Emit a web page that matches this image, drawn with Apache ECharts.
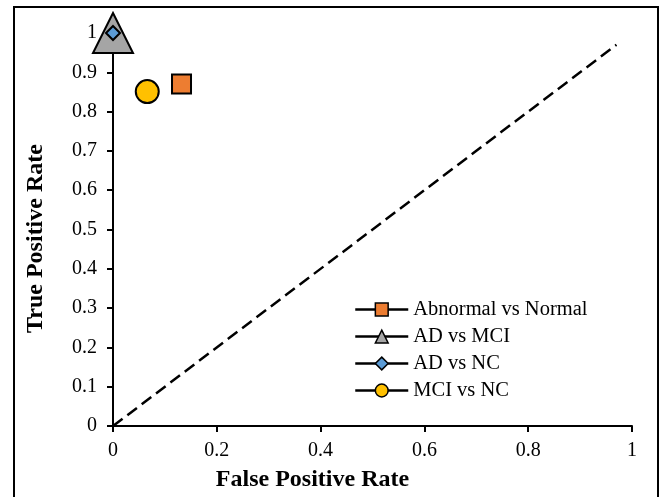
<!DOCTYPE html>
<html><head><meta charset="utf-8">
<script src="https://cdn.jsdelivr.net/npm/echarts@6/dist/echarts.min.js"></script>
<style>html,body{margin:0;padding:0;background:#fff}#c{width:667px;height:497px}</style>
</head><body><div id="c"></div>
<script>
const seriesNames = ["Abnormal vs Normal", "AD vs MCI", "AD vs NC", "MCI vs NC"];
const fpr = [0.132, 0, 0, 0.066];
const tpr = [0.870, 1, 1, 0.851];
const colors = ["#ED7D31", "#A5A5A5", "#5B9BD5", "#FFC000"];
const symbols = ["rect", "triangle", "diamond", "circle"];
const sizes = [19, 40, 14, 23];
const diagX = [0, 0.97];
const diagY = [0, 0.97];

const font = "'Liberation Serif','Times New Roman',serif";
const chart = echarts.init(document.getElementById('c'));
const series = [{
  type: 'line', name: 'diag', data: diagX.map((x, i) => [x, diagY[i]]),
  symbol: 'none', lineStyle: {color: '#000', width: 2.5, type: [12, 6]}, silent: true, z: 1
}];
seriesNames.forEach((n, i) => series.push({
  type: 'line', name: n, data: [[fpr[i], tpr[i]]],
  symbol: symbols[i], symbolSize: sizes[i],
  itemStyle: {color: colors[i], borderColor: '#000', borderWidth: 2},
  lineStyle: {color: '#000', width: 2.5}, z: 3 + (i === 2 ? 2 : 0)
}));
chart.setOption({
  animation: false,
  grid: {left: 113, top: 33, right: 35, bottom: 71},
  graphic: [{type: 'rect', shape: {x: 14, y: 7, width: 644, height: 500},
    style: {fill: 'none', stroke: '#000', lineWidth: 2}, silent: true}],
  legend: {
    data: seriesNames,
    orient: 'vertical', left: 349, top: 294, itemWidth: 53, itemHeight: 16, itemGap: 6,
    textStyle: {fontFamily: font, fontSize: 20.5, color: '#000'},
    itemStyle: {borderColor: '#000', borderWidth: 1.5},
    lineStyle: {color: '#000', width: 2.5}
  },
  xAxis: {
    type: 'value', min: 0, max: 1, interval: 0.2,
    name: 'False Positive Rate', nameLocation: 'middle', nameGap: 42,
    nameTextStyle: {fontFamily: font, fontSize: 24, fontWeight: 'bold', color: '#000', padding: [0, 120, 0, 0]},
    axisLine: {show: true, lineStyle: {color: '#000', width: 2}},
    axisTick: {show: true, length: 6, lineStyle: {color: '#000', width: 2}},
    axisLabel: {fontFamily: font, fontSize: 20, color: '#000', margin: 15},
    splitLine: {show: false}
  },
  yAxis: {
    type: 'value', min: 0, max: 1, interval: 0.1,
    name: 'True Positive Rate', nameLocation: 'middle', nameGap: 65, nameRotate: 90,
    nameTextStyle: {fontFamily: font, fontSize: 24, fontWeight: 'bold', color: '#000', padding: [0, 18, 0, 0]},
    axisLine: {show: true, lineStyle: {color: '#000', width: 2}},
    axisTick: {show: true, length: 6, lineStyle: {color: '#000', width: 2}},
    axisLabel: {fontFamily: font, fontSize: 20, color: '#000', margin: 16},
    splitLine: {show: false}
  },
  series: series
});
</script></body></html>
